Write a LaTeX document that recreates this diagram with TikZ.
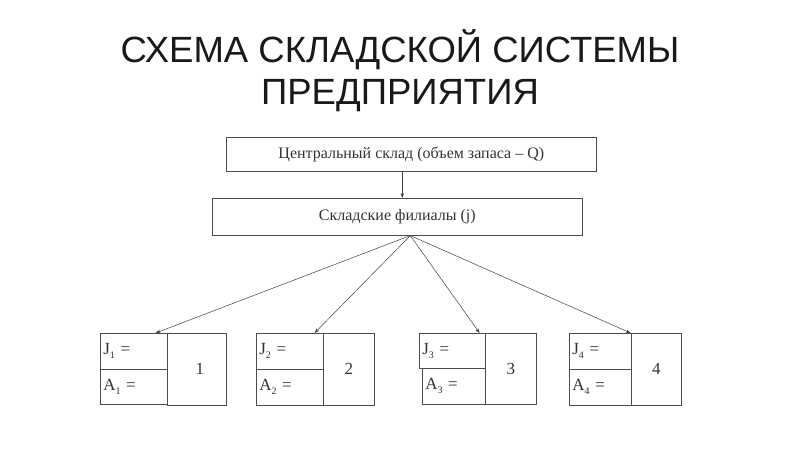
\documentclass[tikz,border=0pt]{standalone}
\usepackage{fontspec}
\setmainfont{Liberation Serif}
\newfontfamily\titlefont{Liberation Sans}
\usetikzlibrary{arrows.meta,positioning}

\newcommand{\lowidx}[1]{\raisebox{-4pt}{\fontsize{10}{10}\selectfont #1}}

\begin{document}
\begin{tikzpicture}[
  x=1pt, y=-1pt,
  font=\fontsize{16}{18}\selectfont,
  >={Stealth[length=5pt,width=3.5pt]},
  box/.style={draw=black!70, line width=0.6pt, inner sep=0pt,
    anchor=north west, text=black!80},
  wide/.style={box, minimum width=370, align=center},
  cell/.style={box, inner xsep=3pt, align=left, font=\fontsize{17}{19}\selectfont},
  numbox/.style={box, align=center, font=\fontsize{17}{19}\selectfont},
  flow/.style={->, draw=black!75, line width=0.5pt},
  heading/.style={font=\titlefont\fontsize{36.5}{42}\selectfont, align=center, text=black!90}
]
\useasboundingbox (0,0) rectangle (800,450);

% ---- title ----
\node[heading] (title) at (400,71) {СХЕМА СКЛАДСКОЙ СИСТЕМЫ\\ПРЕДПРИЯТИЯ};

% ---- upper levels ----
\node[wide, minimum height=34] (central) at (226,137) {Центральный склад (объем запаса – Q)};
\node[wide, minimum height=37] (branches) at (212,198) {\raisebox{3pt}{Складские филиалы (j)}};

% ---- branch cells ----
\node[cell, text width=61, minimum height=36] (j1) at (100,333) {J\lowidx{1} =};
\node[cell, text width=61, minimum height=35] (a1) at (100,369) {A\lowidx{1} =};
\node[numbox, minimum width=59, minimum height=72] (n1) at (167,333) {\hspace*{6pt}1};

\node[cell, text width=61, minimum height=36] (j2) at (256,333) {J\lowidx{2} =};
\node[cell, text width=61, minimum height=36] (a2) at (256,369) {A\lowidx{2} =};
\node[numbox, minimum width=51, minimum height=72] (n2) at (323,333) {2};

\node[cell, text width=60, minimum height=35] (j3) at (419,333) {J\lowidx{3} =};
\node[cell, text width=57, minimum height=36] (a3) at (422,368) {A\lowidx{3} =};
\node[numbox, minimum width=51, minimum height=71] (n3) at (485,333) {3};

\node[cell, text width=56, minimum height=36] (j4) at (569,333) {J\lowidx{4} =};
\node[cell, text width=56, minimum height=36] (a4) at (569,369) {A\lowidx{4} =};
\node[numbox, minimum width=50, minimum height=72] (n4) at (631,333) {4};

% ---- arrows ----
\draw[flow] ([xshift=-9pt]central.south) -- ([xshift=-9pt]central.south |- branches.north);
\foreach \k/\dx in {1/-12, 2/-9, 3/-6, 4/-1}
  \draw[flow] ([xshift=13pt]branches.south) -- ([xshift=\dx pt]j\k.north east);

\end{tikzpicture}
\end{document}
